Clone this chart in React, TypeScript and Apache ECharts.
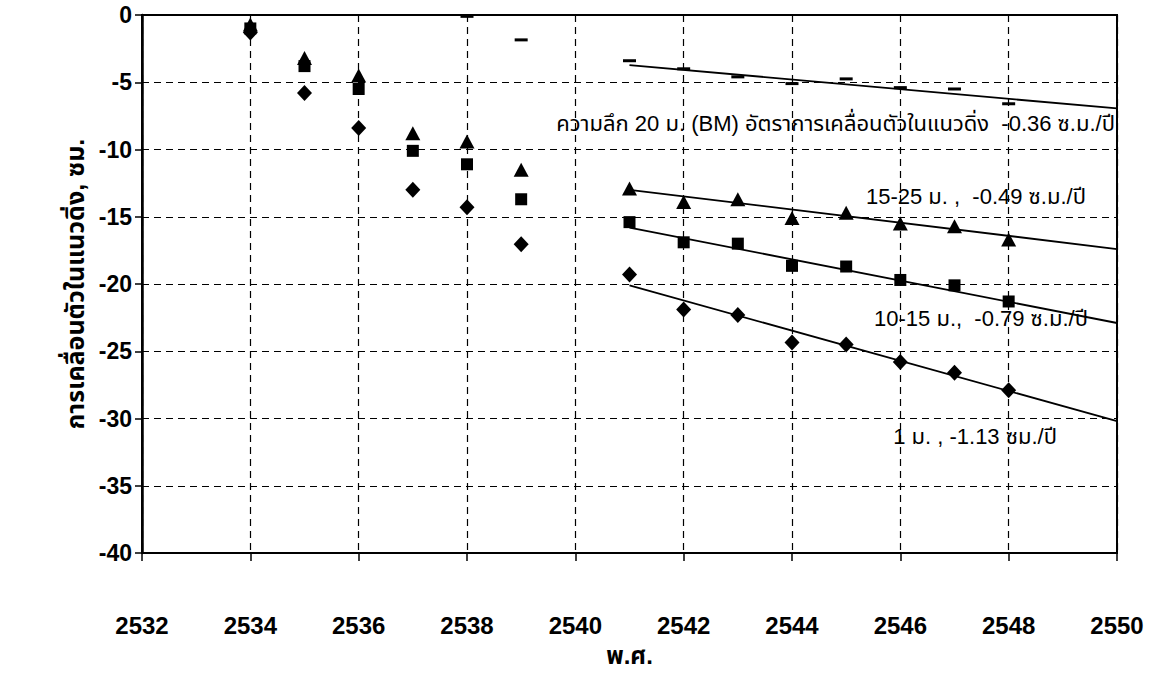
import React, { useEffect, useRef } from "react";
import * as echarts from "echarts";

const xTicks = [2532, 2534, 2536, 2538, 2540, 2542, 2544, 2546, 2548, 2550];
const yTicks = [0, -5, -10, -15, -20, -25, -30, -35, -40];

const years = [2534, 2535, 2536, 2537, 2538, 2539, 2541, 2542, 2543, 2544, 2545, 2546, 2547, 2548];
const depth1525 = [-0.7, -3.2, -4.5, -8.8, -9.4, -11.5, -12.9, -13.9, -13.7, -15.1, -14.7, -15.5, -15.7, -16.7];
const depth1015 = [-1.0, -3.8, -5.5, -10.1, -11.1, -13.7, -15.4, -16.9, -17.0, -18.65, -18.7, -19.7, -20.1, -21.3];
const depth1 = [-1.3, -5.8, -8.4, -13.0, -14.3, -17.05, -19.3, -21.9, -22.3, -24.35, -24.5, -25.8, -26.6, -27.9];

const bmYears = [2538, 2539, 2541, 2542, 2543, 2544, 2545, 2546, 2547, 2548];
const bmValues = [-0.1, -1.85, -3.4, -4.0, -4.6, -5.1, -4.75, -5.4, -5.5, -6.6];

const trendYears = [2541, 2550];
const trendBM = [-3.72, -6.95];
const trend1525 = [-13.0, -17.4];
const trend1015 = [-15.8, -22.9];
const trend1 = [-20.1, -30.2];

const labelBM = "ความลึก 20 ม. (BM) อัตราการเคลื่อนตัวในแนวดิ่ง  -0.36 ซ.ม./ปี";
const label1525 = "15-25 ม. ,  -0.49 ซ.ม./ปี";
const label1015 = "10-15 ม.,  -0.79 ซ.ม./ปี";
const label1 = "1 ม. , -1.13 ซม./ปี";

const yTitle = "การเคลื่อนตัวในแนวดิ่ง, ซม.";
const xTitle = "พ.ศ.";

const FONT = "'Liberation Sans', Arial, 'Noto Sans Thai', 'Noto Sans', sans-serif";

const pairs = (xs: number[], ys: number[]) => xs.map((x, i) => [x, ys[i]]);

export default function App() {
  const ref = useRef<HTMLDivElement>(null);
  useEffect(() => {
    if (!ref.current) return;
    const chart = echarts.init(ref.current, null, { renderer: "svg" });
    const scatter = (data: number[][], symbol: string, size: any) => ({
      type: "scatter",
      data,
      symbol,
      symbolSize: size,
      itemStyle: { color: "#000", opacity: 1 },
      z: 5,
    });
    const trend = (ys: number[]) => ({
      type: "line",
      data: pairs(trendYears, ys),
      symbol: "none",
      lineStyle: { color: "#000", width: 1.8 },
      z: 4,
    });
    const text = (t: string, x: number, y: number) => ({
      type: "text",
      x,
      y,
      style: {
        text: t,
        font: `22px ${FONT}`,
        fill: "#000",
        align: "right",
        verticalAlign: "middle",
        textAlign: "right",
        textVerticalAlign: "middle",
      },
      z: 10,
    });
    chart.setOption({
      animation: false,
      backgroundColor: "#fff",
      grid: {
        left: 142,
        right: 38,
        top: 15,
        bottom: 120,
        show: true,
        borderColor: "#000",
        borderWidth: 2,
        backgroundColor: "transparent",
      },
      xAxis: {
        type: "value",
        min: xTicks[0],
        max: xTicks[xTicks.length - 1],
        interval: 2,
        name: xTitle,
        nameLocation: "middle",
        nameGap: 90,
        nameTextStyle: { fontFamily: FONT, fontWeight: "bold", fontSize: 24, color: "#000" },
        axisLine: { show: true, onZero: false, lineStyle: { color: "#000", width: 2 } },
        axisTick: { show: true, length: 8, lineStyle: { color: "#000", width: 1.5 } },
        axisLabel: {
          margin: 60,
          fontFamily: FONT,
          fontWeight: "bold",
          fontSize: 24,
          color: "#000",
          formatter: (v: number) => String(v),
        },
        splitLine: { show: true, lineStyle: { color: "#000", type: [7, 5], width: 1.2 } },
      },
      yAxis: {
        type: "value",
        min: yTicks[yTicks.length - 1],
        max: yTicks[0],
        interval: 5,
        name: yTitle,
        nameLocation: "middle",
        nameGap: 44,
        nameTextStyle: { fontFamily: FONT, fontWeight: "bold", fontSize: 25, color: "#000" },
        axisLine: { show: true, onZero: false, lineStyle: { color: "#000", width: 2.5 } },
        axisTick: { show: true, length: 7, lineStyle: { color: "#000", width: 1.5 } },
        axisLabel: {
          margin: 10,
          fontFamily: FONT,
          fontWeight: "bold",
          fontSize: 23,
          color: "#000",
          formatter: (v: number) => String(v),
        },
        splitLine: { show: true, lineStyle: { color: "#000", type: [7, 5], width: 1.2 } },
      },
      graphic: [
        text(labelBM, 1115, 123),
        text(label1525, 1086, 196),
        text(label1015, 1088, 318),
        text(label1, 1057, 436),
      ],
      series: [
        trend(trendBM),
        trend(trend1525),
        trend(trend1015),
        trend(trend1),
        scatter(pairs(bmYears, bmValues), "rect", [13, 3]),
        scatter(pairs(years, depth1525), "triangle", [15, 14]),
        scatter(pairs(years, depth1015), "rect", [12, 12]),
        scatter(pairs(years, depth1), "diamond", [15, 16]),
      ],
    });
    return () => chart.dispose();
  }, []);
  return (
    <div
      ref={ref}
      style={{ position: "fixed", left: 0, top: 0, width: 1155, height: 673, background: "#fff" }}
    />
  );
}
